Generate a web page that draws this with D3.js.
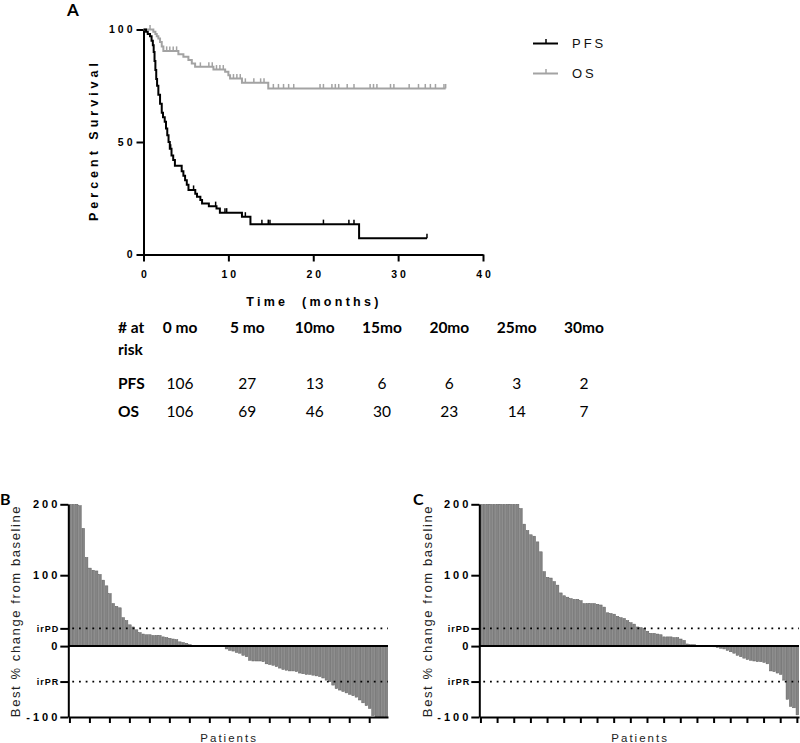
<!DOCTYPE html>
<html><head><meta charset="utf-8">
<script src="https://cdn.jsdelivr.net/npm/d3@7"></script>
<style>body{margin:0;background:#fff}svg{display:block}</style>
</head><body>
<script>
// ---------- DATA ----------
const pfsTime = [0, 0.3, 0.5, 0.77, 0.95, 1.1, 1.2, 1.3, 1.4, 1.5, 1.6, 1.75, 1.95, 2.15, 2.3, 2.5, 2.65, 2.8, 2.95, 3.1, 3.3, 3.5, 3.7, 4.5, 4.7, 4.9, 5.1, 5.3, 6.1, 6.3, 6.7, 6.9, 7.7, 8.6, 9.0, 11.6, 12.6, 25.4];
const pfsSurv = [100, 99, 98, 97, 95, 93, 90, 86, 82, 78, 75, 71, 67, 63, 61, 59, 56, 53, 50, 47, 44, 42, 39.5, 37, 35, 33, 31, 28.7, 27, 25.7, 24.2, 22.7, 21.5, 20.5, 18.6, 16.8, 13.5, 7.2];
const pfsEnd = 33.4;
const pfsCensor = [3.2, 5.9, 8.5, 9.6, 9.8, 12.0, 13.95, 14.7, 14.9, 21.2, 24.2, 24.8, 33.4];

const osTime = [0, 1.16, 1.4, 1.56, 1.75, 1.95, 2.15, 2.34, 4.11, 4.7, 5.29, 5.69, 6.08, 8.24, 9.62, 10.0, 10.2, 11.6, 14.7];
const osSurv = [100, 99, 98, 97, 96, 94.5, 92.5, 90.5, 89, 87.9, 86.4, 84.9, 83.4, 82.2, 81.2, 79.7, 78.2, 76.3, 73.8];
const osEnd = 35.6;
const osCensor = [0.77, 2.73, 3.1, 3.5, 3.9, 6.7, 7.7, 8.1, 8.6, 9.0, 9.4, 10.6, 11.0, 11.4, 12.0, 13.0, 13.8, 14.2, 15.3, 15.9, 16.5, 17.1, 17.7, 20.8, 21.2, 22.2, 22.6, 23.0, 24.0, 24.8, 26.7, 27.1, 27.5, 29.1, 29.5, 31.3, 32.4, 33.2, 33.8, 34.4, 35.4, 35.6];

const seriesNames = ["PFS", "OS"];
const xTicksA = [0, 10, 20, 30, 40];
const yTicksA = [0, 50, 100];

const riskHeaders = ["0 mo", "5 mo", "10mo", "15mo", "20mo", "25mo", "30mo"];
const riskPFS = [106, 27, 13, 6, 6, 3, 2];
const riskOS = [106, 69, 46, 30, 23, 14, 7];

const waterfallB = [200,200,200,198,166,125,110,107,106,101,93,85,74,60,56,54,40,36,30,27,23,19,17,16,16,15,15,15,13,12,11,10,9,6,5,4,2,1,
  0,0,0,0,0,0,0,0,0,
  -4,-6,-7,-9,-10,-13,-15,-20,-21,-21,-21,-22,-25,-26,-27,-29,-31,-33,-34,-35,-35,-36,-38,-39,-40,-40,-41,-42,-43,-45,-48,-50,-55,-60,-62,-64,-66,-68,-70,-72,-76,-80,-84,-88,-98,-100,-100,-100,-100];
const waterfallC = [200,200,200,200,200,200,200,200,200,200,200,200,
  194,172,163,157,155,147,133,105,97,96,91,86,75,71,69,67,66,66,64,60,60,60,60,59,58,55,47,46,45,42,40,39,36,33,31,27,26,25,21,
  18,18,17,16,13,13,13,12,12,10,8,3,2,2,1,
  0,0,0,0,
  -1,-2,-3,-4,-6,-8,-10,-13,-15,-17,-19,-20,-21,-22,-22,-23,-25,-35,-36,-38,-40,-48,-75,-85,-87,-97];
const waterfallTicks = [200, 100, 25, 0, -50, -100];
const thresholdValues = [25, -50];
const thresholdLabels = ["irPD", "irPR"];

// ---------- SETUP ----------
const ARIAL = "'Liberation Sans', Arial, sans-serif";
const CAL = "Lato, 'Open Sans', sans-serif";
const svg = d3.select("body").append("svg").attr("width", 800).attr("height", 743);

function styleAxis(g, size, spacing) {
  g.attr("font-family", ARIAL).attr("font-size", size).attr("font-weight", "bold");
  g.select(".domain").attr("stroke-width", 2);
  g.selectAll(".tick line").attr("stroke-width", 2);
  g.selectAll(".tick text").attr("letter-spacing", spacing);
}

// ---------- PANEL A ----------
const xA = d3.scaleLinear().domain([0, 40]).range([143.5, 483]);
const yA = d3.scaleLinear().domain([0, 100]).range([254.5, 29.5]);

const gx = svg.append("g").attr("transform", `translate(0,${yA(0)})`)
  .call(d3.axisBottom(xA).tickValues(xTicksA).tickSize(7).tickSizeOuter(0).tickPadding(9));
styleAxis(gx, 10.5, 3);
gx.selectAll(".tick text").attr("dx", 1.5);

const gy = svg.append("g").attr("transform", `translate(${xA(0)},0)`)
  .call(d3.axisLeft(yA).tickValues(yTicksA).tickSize(7).tickSizeOuter(0).tickPadding(1));
styleAxis(gy, 10.5, 3);

function stepPoints(times, surv, end) {
  const p = times.map((t, i) => [t, surv[i]]);
  p.push([end, surv[surv.length - 1]]);
  return p;
}
function survAt(times, surv, t) {
  let s = surv[0];
  for (let i = 0; i < times.length; i++) if (times[i] <= t) s = surv[i];
  return s;
}
const kmLine = d3.line().x(d => xA(d[0])).y(d => yA(d[1])).curve(d3.curveStepAfter);

const kmSeries = [
  {name: seriesNames[1], times: osTime, surv: osSurv, end: osEnd, cens: osCensor, color: "#a3a3a3"},
  {name: seriesNames[0], times: pfsTime, surv: pfsSurv, end: pfsEnd, cens: pfsCensor, color: "#000"}
];
kmSeries.forEach(s => {
  svg.append("path").datum(stepPoints(s.times, s.surv, s.end))
    .attr("d", kmLine).attr("fill", "none").attr("stroke", s.color).attr("stroke-width", 2);
  svg.append("g").selectAll("line").data(s.cens).join("line")
    .attr("x1", d => xA(d)).attr("x2", d => xA(d))
    .attr("y1", d => yA(survAt(s.times, s.surv, d)))
    .attr("y2", d => yA(survAt(s.times, s.surv, d)) - 4.5)
    .attr("stroke", s.color).attr("stroke-width", 1.5);
});

// axis titles A
svg.append("text").attr("transform", "translate(98,142) rotate(-90)")
  .attr("text-anchor", "middle").attr("dx", 2)
  .attr("font-family", ARIAL).attr("font-weight", "bold").attr("font-size", 12.5)
  .attr("letter-spacing", 4).text("Percent Survival");
svg.append("text").attr("x", 314).attr("y", 306)
  .attr("text-anchor", "middle").style("white-space", "pre")
  .attr("font-family", ARIAL).attr("font-weight", "bold").attr("font-size", 12.5)
  .attr("letter-spacing", 3.3).text("Time  (months)");

// panel label A
svg.append("text").attr("x", 67).attr("y", 15.5).attr("font-family", CAL)
  .attr("font-weight", "bold").attr("font-size", 17).text("A");

// legend
const legend = [{name: seriesNames[0], color: "#000", y: 43.5}, {name: seriesNames[1], color: "#a3a3a3", y: 73.5}];
legend.forEach(l => {
  svg.append("line").attr("x1", 533).attr("x2", 558).attr("y1", l.y).attr("y2", l.y)
    .attr("stroke", l.color).attr("stroke-width", 2);
  svg.append("line").attr("x1", 546).attr("x2", 546).attr("y1", l.y).attr("y2", l.y - 4.5)
    .attr("stroke", l.color).attr("stroke-width", 1.5);
  svg.append("text").attr("x", 572).attr("y", l.y + 4.5)
    .attr("font-family", ARIAL).attr("font-size", 13).attr("letter-spacing", 3)
    .attr("fill", "#111").text(l.name);
});

// ---------- RISK TABLE ----------
const colX = d3.scalePoint().domain(riskHeaders).range([180, 584]);
const labelX = 118;
const rowY = {head: 333, risk: 355, pfs: 389, os: 417};
const tbl = svg.append("g").attr("font-family", CAL).attr("font-size", 15.5).attr("fill", "#000");
tbl.append("text").attr("x", labelX).attr("y", rowY.head).attr("font-weight", "bold").text("# at");
tbl.append("text").attr("x", labelX).attr("y", rowY.risk).attr("font-weight", "bold").text("risk");
tbl.append("text").attr("x", labelX).attr("y", rowY.pfs).attr("font-weight", "bold").text("PFS");
tbl.append("text").attr("x", labelX).attr("y", rowY.os).attr("font-weight", "bold").text("OS");
tbl.selectAll("text.h").data(riskHeaders).join("text").attr("class", "h")
  .attr("x", d => colX(d)).attr("y", rowY.head).attr("text-anchor", "middle").attr("font-weight", "bold").text(d => d);
tbl.selectAll("text.p").data(riskPFS).join("text").attr("class", "p")
  .attr("x", (d, i) => colX(riskHeaders[i])).attr("y", rowY.pfs).attr("text-anchor", "middle").text(d => d);
tbl.selectAll("text.o").data(riskOS).join("text").attr("class", "o")
  .attr("x", (d, i) => colX(riskHeaders[i])).attr("y", rowY.os).attr("text-anchor", "middle").text(d => d);

// ---------- WATERFALLS ----------
function waterfall(data, x0, letter, letterX, titleX, tickEvery) {
  const width = 319.7;
  const x = d3.scaleBand().domain(d3.range(data.length)).range([x0, x0 + width]).paddingInner(0.22).paddingOuter(0.1);
  const y = d3.scaleLinear().domain([-100, 200]).range([717, 504.3]);

  svg.append("g").selectAll("rect").data(data).join("rect")
    .attr("x", (d, i) => x(i)).attr("width", x.bandwidth())
    .attr("y", d => y(Math.max(0, d)))
    .attr("height", d => Math.abs(y(d) - y(0)))
    .attr("fill", "#858585").attr("stroke", "#5e5e5e").attr("stroke-width", 0.5);

  thresholdValues.forEach(v => {
    svg.append("line").attr("x1", x0 + 4).attr("x2", x0 + width).attr("y1", y(v)).attr("y2", y(v))
      .attr("stroke", "#000").attr("stroke-width", 1.8).attr("stroke-dasharray", "1.8,4.9");
  });

  svg.append("line").attr("x1", x0).attr("x2", x0 + width).attr("y1", y(0)).attr("y2", y(0))
    .attr("stroke", "#000").attr("stroke-width", 2);

  const gb = svg.append("g").attr("transform", `translate(0,${y(-100)})`)
    .call(d3.axisBottom(x).tickValues(d3.range(0, data.length, tickEvery)).tickFormat("").tickSize(6).tickSizeOuter(0));
  styleAxis(gb, 10, 0);

  const gl = svg.append("g").attr("transform", `translate(${x0},0)`)
    .call(d3.axisLeft(y).tickValues(waterfallTicks).tickSize(8).tickSizeOuter(0).tickPadding(0)
      .tickFormat(d => { const k = thresholdValues.indexOf(d); return k >= 0 ? thresholdLabels[k] : d; }));
  styleAxis(gl, 11, 3);
  gl.selectAll(".tick text").filter(d => thresholdValues.includes(d))
    .attr("font-size", 9).attr("letter-spacing", 1).attr("x", -9);

  svg.append("text").attr("transform", `translate(${titleX},612) rotate(-90)`)
    .attr("text-anchor", "middle").attr("dx", 1)
    .attr("font-family", ARIAL).attr("font-size", 13).attr("letter-spacing", 1.6)
    .attr("fill", "#222").text("Best % change from baseline");
  svg.append("text").attr("x", x0 + width / 2 + 1).attr("y", 742)
    .attr("text-anchor", "middle").attr("font-family", ARIAL).attr("font-size", 11.5)
    .attr("letter-spacing", 2).attr("fill", "#222").text("Patients");
  svg.append("text").attr("x", letterX).attr("y", 505).attr("font-family", CAL)
    .attr("font-weight", "bold").attr("font-size", 16).text(letter);
}
waterfall(waterfallB, 68.3, "B", 0, 20, 6);
waterfall(waterfallC, 479.3, "C", 413, 432, 5);
</script>
</body></html>
